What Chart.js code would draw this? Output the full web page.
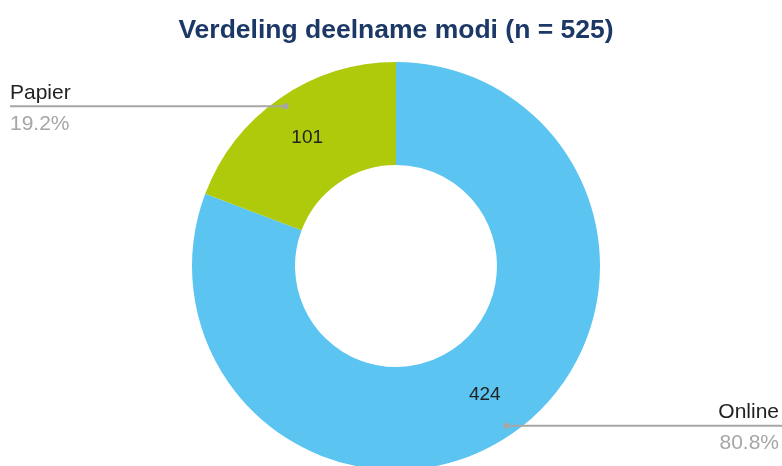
<!DOCTYPE html>
<html>
<head>
<meta charset="utf-8">
<script src="https://cdn.jsdelivr.net/npm/chart.js@4.4.0/dist/chart.umd.min.js"></script>
<style>
    html, body { margin: 0; padding: 0; background: #fff; }
    #wrap { width: 782px; height: 466px; position: relative; }
</style>
</head>
<body>
<div id="wrap"><canvas id="modiChart"></canvas></div>
<script>
// ==================== DATA ====================
const categories = ['Online', 'Papier'];
const counts = [424, 101];
const sliceColors = ['#5bc4f1', '#afca0b'];

const total = counts.reduce((a, b) => a + b, 0);

// ==================== LABEL PLUGIN ====================
// value inside the ring + leader line with name / percentage
const calloutPlugin = {
    id: 'callouts',
    afterDatasetsDraw(chart) {
        const ctx = chart.ctx;
        const meta = chart.getDatasetMeta(0);
        const W = chart.width;

        meta.data.forEach((arc, i) => {
            const mid = (arc.startAngle + arc.endAngle) / 2;
            const cx = arc.x, cy = arc.y;
            const R = arc.outerRadius;

            // value in ring
            const vr = R * 0.766;
            ctx.save();
            ctx.font = '19px "Liberation Sans", Arial, sans-serif';
            ctx.fillStyle = '#222';
            ctx.textAlign = 'center';
            ctx.textBaseline = 'middle';
            ctx.fillText(String(counts[i]), cx + Math.cos(mid) * vr, cy + Math.sin(mid) * vr);

            // leader line
            const dr = R * 0.952;
            const px = cx + Math.cos(mid) * dr;
            const py = cy + Math.sin(mid) * dr;
            const left = Math.cos(mid) < 0;
            const endX = left ? 10 : W;

            ctx.strokeStyle = '#a6a6a6';
            ctx.lineWidth = 2;
            ctx.beginPath();
            ctx.moveTo(px, py);
            ctx.lineTo(endX, py);
            ctx.stroke();
            ctx.fillStyle = '#a6a6a6';
            ctx.beginPath();
            ctx.arc(px, py, 3, 0, Math.PI * 2);
            ctx.fill();

            const pct = (counts[i] / total * 100).toFixed(1) + '%';
            ctx.font = '21px "Liberation Sans", Arial, sans-serif';
            ctx.textBaseline = 'alphabetic';
            ctx.textAlign = left ? 'left' : 'right';
            const tx = left ? 10 : W - 3;
            ctx.fillStyle = '#222';
            ctx.fillText(categories[i], tx, py - 7.5);
            ctx.fillStyle = '#a6a6a6';
            ctx.fillText(pct, tx, py + 23.5);
            ctx.restore();
        });
    }
};

// ==================== CHART ====================
new Chart(document.getElementById('modiChart').getContext('2d'), {
    type: 'doughnut',
    data: {
        labels: categories,
        datasets: [{
            data: counts,
            backgroundColor: sliceColors,
            borderWidth: 0,
            clip: false
        }]
    },
    options: {
        responsive: true,
        maintainAspectRatio: false,
        animation: false,
        cutout: '49.5%',
        radius: 204,
        layout: { padding: { left: 10, right: 0, top: 0, bottom: 0 } },
        plugins: {
            legend: { display: false },
            tooltip: { enabled: false },
            title: {
                display: true,
                text: 'Verdeling deelname modi (n = ' + total + ')',
                color: '#1c3867',
                font: { family: '"Liberation Sans", Arial, sans-serif', size: 26.5, weight: 'bold' },
                padding: { top: 14.4, bottom: 19.8 }
            }
        }
    },
    plugins: [calloutPlugin]
});
</script>
</body>
</html>
